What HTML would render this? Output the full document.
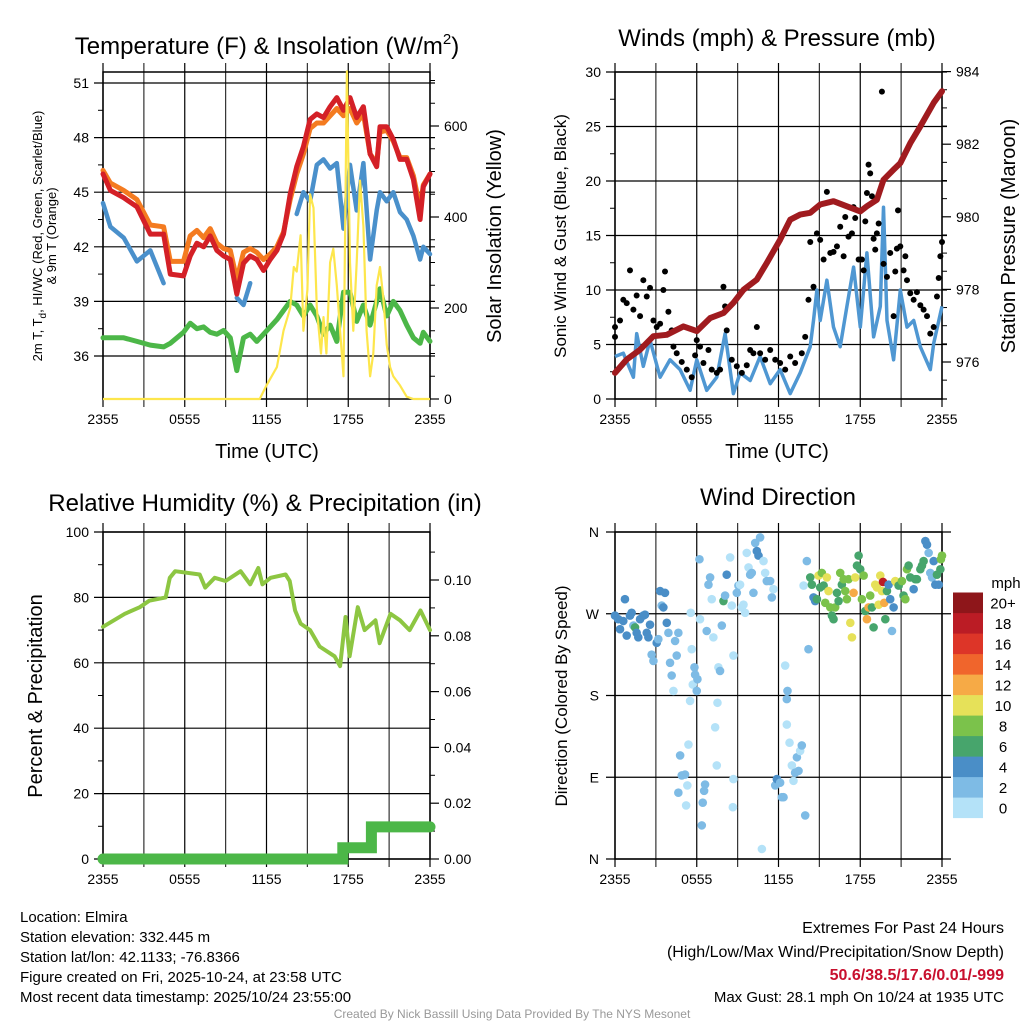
<!DOCTYPE html>
<html><head><meta charset="utf-8"><style>
html,body{margin:0;padding:0;background:#fff;}
svg{display:block;font-family:"Liberation Sans",sans-serif;}
</style></head><body>
<svg id="chart" width="1024" height="1024" viewBox="0 0 1024 1024" xmlns="http://www.w3.org/2000/svg"></svg>
<script>
// ---------- Temperature panel data ----------
const tempHours=[0,0.54,1.52,2.49,3.47,4.45,4.94,5.91,6.40,6.89,7.38,7.87,8.36,8.85,9.34,9.82,10.31,10.80,11.29,11.78,12.27,12.76,13.25,13.74,14.22,14.71,15.20,15.69,16.18,16.67,17.16,17.65,18.13,18.62,19.11,19.60,20.09,20.33,20.82,21.31,21.80,22.29,22.78,23.27,23.51,24];
const tempRed=[46.0,45.1,44.7,44.2,42.7,42.7,40.5,40.4,41.5,42.2,42.0,42.6,41.8,41.5,41.3,39.4,41.1,41.5,41.3,40.7,41.3,41.8,42.7,44.9,46.4,47.5,49.0,49.3,49.1,49.7,50.2,49.5,50.2,49.1,49.7,47.1,46.4,48.6,48.6,47.9,46.8,46.8,45.7,43.5,45.3,46.0];
const temp9m=[46.2,45.5,45.1,44.6,43.2,43.1,41.2,41.2,42.6,42.9,42.5,43.0,42.2,41.9,41.8,40.2,41.7,41.9,41.7,41.3,41.6,42.0,42.8,44.6,46.0,47.1,48.5,48.8,48.8,49.2,49.6,49.2,49.6,48.8,49.3,47.1,46.6,48.3,48.4,47.8,46.9,46.9,45.9,44.1,45.4,46.0];
const windChill=[44.4,43.1,42.5,41.2,41.8,40.0,null,null,null,null,null,40.0,null,null,null,39.2,38.8,40.0,null,null,null,null,null,null,43.8,45.0,44.5,46.5,46.8,46.3,46.6,43.0,46.5,44.0,46.6,41.3,44.0,45.0,44.5,45.0,43.9,43.5,42.6,41.3,42.0,41.6];
const dewPoint=[37.0,37.0,37.0,36.8,36.6,36.5,36.7,37.3,37.8,37.5,37.6,37.3,37.2,37.4,37.0,35.2,37.0,37.2,36.8,37.2,37.6,38.0,38.5,39.0,38.8,38.2,38.8,38.2,37.2,37.7,36.8,39.5,39.5,37.9,38.8,37.7,39.0,39.7,38.2,39.0,38.5,37.7,37.0,36.7,37.3,36.8];
const solarHours=[0,11.5,12.0,12.76,13.25,13.74,14.0,14.22,14.5,14.71,15.0,15.2,15.45,15.69,16.0,16.18,16.4,16.67,16.9,17.16,17.4,17.65,17.9,18.13,18.37,18.62,18.86,19.11,19.35,19.6,19.84,20.09,20.33,20.58,20.82,21.07,21.31,21.8,22.29,22.78,24];
const solarVals=[0,0,30,70,150,200,290,280,360,150,240,450,420,200,100,180,100,300,330,250,150,50,720,300,150,300,480,380,150,50,100,250,290,220,120,70,50,30,5,0,0];
const tempTicks=[36,39,42,45,48,51];
const solarTicks=[0,200,400,600];
const timeTickLabels=["2355","0555","1155","1755","2355"];

// ---------- Wind panel data ----------
const pressHours=[0,0.86,1.84,2.82,3.80,5.02,6.00,6.98,7.96,8.69,9.43,10.41,11.14,12.12,12.86,13.59,14.33,15.06,16.04,17.02,18.00,18.49,19.22,19.71,20.45,20.94,21.67,22.41,23.39,24];
const pressVals=[975.70,976.07,976.34,976.71,976.75,976.98,976.85,977.21,977.35,977.63,977.99,978.27,978.73,979.37,979.92,980.06,980.11,980.34,980.43,980.29,980.15,980.29,980.47,981.02,981.30,981.48,982.03,982.49,983.14,983.46];
const windHours=[0,0.61,1.35,1.59,2.08,2.57,3.31,4.04,4.78,5.51,6.00,6.73,7.47,8.08,8.69,9.18,9.92,10.65,11.39,12.12,12.86,13.59,14.33,14.57,14.82,15.06,15.55,16.04,16.53,17.02,17.51,18.00,18.49,18.98,19.47,19.71,19.96,20.45,20.94,21.43,21.92,22.41,23.14,23.39,24];
const windVals=[3.9,4.2,2.0,6.0,3.0,5.4,2.0,3.6,2.7,0.8,3.6,0.8,2.0,6.0,0.5,2.4,1.7,3.9,1.4,2.7,0.5,2.4,4.8,7.2,10.0,7.2,10.9,6.6,4.8,8.5,12.1,6.6,13.4,5.7,8.5,17.6,7.2,3.6,10.0,6.6,7.2,4.8,2.7,5.1,8.5];
const gustHours=[0,0,0.37,0.61,0.86,1.10,1.35,1.59,1.84,2.08,2.33,2.57,2.82,3.06,3.31,3.55,3.67,3.92,4.16,4.29,4.53,4.90,5.27,5.63,5.88,6.00,6.24,6.49,6.86,7.10,7.47,7.71,7.96,8.08,8.20,8.57,8.94,9.31,9.67,9.92,10.16,10.41,10.65,11.02,11.39,11.76,12.12,12.49,12.86,13.22,13.71,13.96,14.20,14.33,14.57,14.82,15.06,15.31,15.55,15.80,16.04,16.29,16.53,16.78,16.90,17.14,17.39,17.51,17.63,17.88,18.12,18.25,18.37,18.49,18.61,18.73,18.86,18.98,19.10,19.22,19.35,19.59,19.71,19.96,20.20,20.45,20.57,20.69,20.77,20.94,21.18,21.31,21.43,21.67,21.92,22.16,22.41,22.65,22.90,23.14,23.39,23.63,23.76,23.88,24.0];
const gustVals=[5.7,6.6,7.2,9.1,8.8,11.8,8.2,9.5,7.6,10.9,9.4,10.2,7.2,6.6,6.9,10.0,11.7,8.0,6.3,4.8,4.2,3.4,2.7,2.0,4.0,5.4,4.8,3.3,4.5,2.7,2.4,2.7,10.3,8.5,6.3,3.6,3.0,2.4,3.1,4.5,4.2,6.6,4.2,3.6,4.5,3.6,3.3,2.7,3.9,3.3,4.2,5.7,9.1,14.4,10.3,15.2,14.6,12.8,19.0,13.4,13.5,14.0,15.8,13.1,16.7,14.9,15.2,17.6,16.6,12.8,12.8,11.8,16.3,18.9,21.5,20.7,18.6,14.7,13.7,15.2,16.1,28.2,12.4,11.2,13.4,7.6,11.7,13.8,17.3,14.0,11.8,13.1,10.9,9.7,9.1,9.8,8.6,8.2,7.6,6.0,6.6,9.4,11.1,13.1,14.4];
const windTicks=[0,5,10,15,20,25,30];
const pressTicks=[976,978,980,982,984];

// ---------- Humidity panel data ----------
const rhHours=[0,1.6,2.7,3.4,4.6,4.9,5.3,7.1,7.5,8.2,9.0,10.1,10.8,11.4,11.7,12.3,13.4,13.7,14.1,14.5,15.2,15.9,17.0,17.4,17.8,18.1,18.7,19.2,20.0,20.3,21.1,21.8,22.5,23.3,24];
const rhVals=[71,75,77,79,80,86,88,87,83,86,85,88,84,89,84,86,87,85,76,72,70,65,62,59,74,62,77,70,73,66,75,73,70,76,70];
const precipHours=[0,17.6,19.7,24];
const precipVals=[0,0.004,0.0115,0.0115];
const rhTicks=[0,20,40,60,80,100];
const precipTicks=[0,0.02,0.04,0.06,0.08,0.10];

// ---------- Wind direction panel data ----------
const dirHours=[0.0,0.24,0.37,0.61,0.73,0.86,1.10,1.22,1.35,1.47,1.59,1.71,1.84,2.08,2.20,2.33,2.45,2.57,2.69,2.82,3.06,3.18,3.31,3.43,3.55,3.67,3.80,3.92,4.04,4.16,4.29,4.41,4.53,4.65,4.65,4.78,4.90,5.14,5.22,5.31,5.39,5.51,5.56,5.63,5.71,5.83,5.88,6.00,6.05,6.20,6.24,6.37,6.44,6.54,6.61,6.73,6.86,6.98,7.10,7.22,7.35,7.47,7.52,7.59,7.71,7.84,7.96,8.08,8.20,8.45,8.57,8.65,8.69,8.69,8.94,9.06,9.18,9.31,9.43,9.55,9.67,9.80,9.92,10.04,10.16,10.29,10.41,10.53,10.65,10.78,10.90,11.02,11.14,11.39,11.51,11.63,11.76,11.88,12.12,12.25,12.37,12.49,12.61,12.66,12.61,12.81,12.98,13.10,13.22,13.35,13.47,13.59,13.71,13.96,13.84,14.08,14.20,14.33,14.45,14.57,14.69,14.82,14.94,15.06,15.18,15.31,15.43,15.55,15.67,15.80,15.92,16.04,16.16,16.29,16.41,16.53,16.65,16.78,16.90,17.02,17.14,17.27,17.39,17.51,17.63,17.76,17.88,18.00,18.12,18.25,18.37,18.49,18.61,18.73,18.86,18.98,19.10,19.22,19.35,19.47,19.59,19.67,19.76,19.84,19.96,20.08,20.20,20.33,20.45,20.57,20.69,20.82,21.06,21.18,21.31,21.43,21.55,21.67,21.92,22.04,22.16,22.41,22.53,22.65,22.78,22.90,23.02,23.14,23.27,23.39,23.51,23.63,23.76,23.88,23.92,24.0];
const dirDeg=[268,264,253,262,286,246,268,271,257,255,249,244,264,268,269,249,244,258,225,218,238,242,295,279,277,293,260,249,216,202,185,240,224,249,73,114,92,93,59,81,126,174,271,231,192,211,203,185,198,330,264,37,62,75,82,251,302,310,286,244,145,103,172,211,207,257,284,290,313,332,279,57,224,88,293,301,302,277,280,271,337,321,313,315,293,348,339,334,354,11,328,315,306,306,288,297,81,88,84,68,68,213,176,185,148,128,103,86,95,112,97,119,125,48,301,328,231,310,302,288,284,286,312,299,315,301,282,310,295,277,268,264,277,293,284,315,302,308,295,286,308,260,244,293,310,323,334,319,286,312,273,264,277,290,277,255,302,299,280,312,295,305,282,264,295,302,286,251,277,306,304,301,306,290,286,319,323,310,297,308,308,319,323,328,350,346,337,315,310,328,302,313,302,319,330,334];
const dirSpeed=[5,5,5,5,5,5,5,5,3,7,5,5,5,5,5,5,5,5,3,3,5,3,5,3,5,5,5,3,3,3,1,3,3,3,3,3,3,3,1,1,1,1,1,1,1,3,3,3,3,3,1,3,3,3,3,3,3,3,1,1,1,1,1,1,3,3,7,3,5,1,1,1,1,1,3,3,1,1,1,1,1,1,3,3,3,3,5,5,3,1,1,1,3,3,3,1,3,5,3,3,3,1,3,3,1,1,1,1,3,3,3,1,3,3,1,3,3,7,7,5,5,7,11,7,9,7,9,11,11,9,7,7,9,7,7,9,7,9,9,9,9,11,11,13,11,7,7,7,9,9,7,13,13,9,7,7,11,11,11,11,11,19,13,7,7,5,5,3,5,11,11,7,9,7,9,9,7,7,5,7,7,7,7,7,5,5,3,3,3,5,5,7,5,7,9,9];
const speedBinLabels=["0","2","4","6","8","10","12","14","16","18","20+"];
const speedColors=["#b4e2f8","#7ebbe5","#4a8ec7","#47a56c","#7bc24b","#e6e159","#f6aa46","#f0652c","#dd3528","#bb1c25","#8e161a"];
const dirTickLabels=["N","E","S","W","N"];
const dirTicks=[0,90,180,270,360];

// ---------- helpers ----------
const NS="http://www.w3.org/2000/svg";
const svg=document.getElementById('chart');
function mk(tag,attrs,parent){const e=document.createElementNS(NS,tag);for(const k in attrs)e.setAttribute(k,attrs[k]);(parent||svg).appendChild(e);return e;}
function txt(s,x,y,size,anchor,parent,extra){const e=mk('text',Object.assign({x:x,y:y,'font-size':size,'text-anchor':anchor||'middle',fill:'#000'},extra||{}),parent);e.textContent=s;return e;}
function timeX(p,h){return p.x0+h/24*(p.x1-p.x0);}
function linePath(xs,ys,fx,fy){let d='',pen=false;for(let i=0;i<xs.length;i++){if(ys[i]===null){pen=false;continue;}d+=(pen?'L':'M')+fx(xs[i]).toFixed(1)+' '+fy(ys[i]).toFixed(1);pen=true;}return d;}

function frame(p,name){
  const g=mk('g',{});
  
  
  for(let h=0;h<=24;h+=3){const x=timeX(p,h);mk('line',{x1:x,x2:x,y1:p.y0-9,y2:p.y1+8,stroke:(h%6===0)?'#000':'#333','stroke-width':1.2},g);}
  mk('rect',{x:p.x0,y:p.y0,width:p.x1-p.x0,height:p.y1-p.y0,fill:'none',stroke:'#000','stroke-width':1.5},g);
  const lg=mk('g',{});
  
  
  timeTickLabels.forEach((s,i)=>{txt(s,timeX(p,i*6),p.y1+25,14,'middle',lg);});
  return g;
}

// ---------- Panel 1: Temperature ----------
(function(){
  const p={x0:103,x1:430,y0:72,y1:399};
  const tY=v=>356-(v-36)*18.2, sY=w=>399-w*0.455, X=h=>timeX(p,h);
  frame(p,'temperature');
  const g=mk('g',{});
  
  
  tempTicks.forEach(v=>{const y=tY(v);mk('line',{x1:p.x0-9,x2:p.x1+5,y1:y,y2:y,stroke:'#000','stroke-width':1.2},g);txt(String(v),p.x0-14,y+5,14,'end',g);});
  for(let v=37.5;v<51.6;v+=3){const y=tY(v);mk('line',{x1:p.x0-5,x2:p.x0,y1:y,y2:y,stroke:'#000'},g);}
  solarTicks.forEach(v=>{const y=sY(v);mk('line',{x1:p.x1,x2:p.x1+9,y1:y,y2:y,stroke:'#000','stroke-width':1.2},g);txt(String(v),p.x1+14,y+5,14,'start',g);});
  for(let v=50;v<720;v+=50){if(v%200===0)continue;const y=sY(v);mk('line',{x1:p.x1,x2:p.x1+5,y1:y,y2:y,stroke:'#000'},g);}
  const series=[[dewPoint,'#4cb748',5,'dewpoint-line'],[windChill,'#4a90cb',4.5,'wind-chill-line'],[temp9m,'#f47b20',5,'temp-9m-line'],[tempRed,'#d42027',5,'temp-2m-line']];
  series.forEach(s=>{const e=mk('path',{d:linePath(tempHours,s[0],X,tY),fill:'none',stroke:s[1],'stroke-width':s[2],'stroke-linejoin':'round','stroke-linecap':'round'});
    
    });
  const sol=mk('path',{d:linePath(solarHours,solarVals,X,sY),fill:'none',stroke:'#fde64c','stroke-width':2.2,'stroke-linejoin':'round'});
  
  
  const t=txt('',267,54,24,'middle');t.innerHTML='Temperature (F) &amp; Insolation (W/m<tspan dy="-10" font-size="15">2</tspan><tspan dy="10">)</tspan>';
  
  
  const yl=mk('g',{transform:'translate(42,236) rotate(-90)'});
  
  
  const a=txt('',0,0,13,'middle',yl);a.innerHTML='2m T, T<tspan dy="4" font-size="10">d</tspan><tspan dy="-4">, HI/WC (Red, Green, Scarlet/Blue)</tspan>';
  txt('& 9m T (Orange)',0,14,13,'middle',yl);
  const yr=txt('Solar Insolation (Yellow)',0,0,20,'middle',null,{transform:'translate(501,236) rotate(-90)'});
  
  
  const xl=txt('Time (UTC)',267,458,20);
  
  
})();

// ---------- Panel 2: Winds & Pressure ----------
(function(){
  const p={x0:615,x1:942,y0:72,y1:399};
  const wY=v=>399-v*10.9, pY=v=>362-(v-976)*36.3, X=h=>timeX(p,h);
  frame(p,'wind');
  const g=mk('g',{});
  
  
  windTicks.forEach(v=>{const y=wY(v);mk('line',{x1:p.x0-9,x2:p.x1+5,y1:y,y2:y,stroke:'#000','stroke-width':1.2},g);txt(String(v),p.x0-14,y+5,14,'end',g);});
  for(let v=2.5;v<30;v+=5){const y=wY(v);mk('line',{x1:p.x0-5,x2:p.x0,y1:y,y2:y,stroke:'#000'},g);}
  pressTicks.forEach(v=>{const y=pY(v);mk('line',{x1:p.x1,x2:p.x1+9,y1:y,y2:y,stroke:'#000','stroke-width':1.2},g);txt(String(v),p.x1+14,y+5,14,'start',g);});
  for(let v=975.5;v<984;v+=0.5){if(Math.abs(v-Math.round(v/2)*2)<0.01)continue;const y=pY(v);mk('line',{x1:p.x1,x2:p.x1+5,y1:y,y2:y,stroke:'#000'},g);}
  const w=mk('path',{d:linePath(windHours,windVals,X,wY),fill:'none',stroke:'#4f97d2','stroke-width':3.5,'stroke-linejoin':'round'});
  
  
  const gg=mk('g',{});
  
  
  gustHours.forEach((h,i)=>{mk('circle',{cx:X(h),cy:wY(gustVals[i]),r:3,fill:'#000'},gg);});
  const pr=mk('path',{d:linePath(pressHours,pressVals,X,pY),fill:'none',stroke:'#a01b1f','stroke-width':6,'stroke-linejoin':'round','stroke-linecap':'round'});
  
  
  const t=txt('Winds (mph) & Pressure (mb)',777,46,24);
  
  
  const yl=txt('Sonic Wind & Gust (Blue, Black)',0,0,17,'middle',null,{transform:'translate(566,236) rotate(-90)'});
  
  
  const yr=txt('Station Pressure (Maroon)',0,0,20,'middle',null,{transform:'translate(1015,236) rotate(-90)'});
  
  
  const xl=txt('Time (UTC)',777,458,20);
  
  
})();

// ---------- Panel 3: Humidity & Precip ----------
(function(){
  const p={x0:103,x1:430,y0:532,y1:859};
  const rY=v=>859-v*3.27, pY=v=>859-v*2790, X=h=>timeX(p,h);
  frame(p,'humidity');
  const g=mk('g',{});
  
  
  rhTicks.forEach(v=>{const y=rY(v);mk('line',{x1:p.x0-9,x2:p.x1,y1:y,y2:y,stroke:'#000','stroke-width':1.2},g);txt(String(v),p.x0-14,y+5,14,'end',g);});
  for(let v=10;v<100;v+=20){const y=rY(v);mk('line',{x1:p.x0-5,x2:p.x0,y1:y,y2:y,stroke:'#000'},g);}
  precipTicks.forEach(v=>{const y=pY(v);mk('line',{x1:p.x1,x2:p.x1+9,y1:y,y2:y,stroke:'#000','stroke-width':1.2},g);txt(v.toFixed(2),p.x1+14,y+5,14,'start',g);});
  for(let v=0.01;v<0.115;v+=0.02){const y=pY(v);mk('line',{x1:p.x1,x2:p.x1+5,y1:y,y2:y,stroke:'#000'},g);}
  const rh=mk('path',{d:linePath(rhHours,rhVals,X,rY),fill:'none',stroke:'#8dc642','stroke-width':4,'stroke-linejoin':'round','stroke-linecap':'round'});
  
  
  let d='';precipHours.forEach((h,i)=>{if(i===0)d+='M'+X(h)+' '+pY(precipVals[i]);else d+='H'+X(h).toFixed(1)+'V'+pY(precipVals[i]).toFixed(1);});
  const pr=mk('path',{d:d,fill:'none',stroke:'#4cb748','stroke-width':11,'stroke-linecap':'round'});
  
  
  const t=txt('Relative Humidity (%) & Precipitation (in)',265,511,24);
  
  
  const yl=txt('Percent & Precipitation',0,0,20,'middle',null,{transform:'translate(42,696) rotate(-90)'});
  
  
})();

// ---------- Panel 4: Wind Direction ----------
(function(){
  const p={x0:615,x1:942,y0:532,y1:859};
  const dY=v=>859-v*(327/360), X=h=>timeX(p,h);
  frame(p,'wind-direction');
  const g=mk('g',{});
  
  
  dirTicks.forEach((v,i)=>{const y=dY(v);mk('line',{x1:p.x0-9,x2:p.x1+9,y1:y,y2:y,stroke:'#000','stroke-width':1.2},g);txt(dirTickLabels[i],p.x0-16,y+5,14,'end',g);});
  const pg=mk('g',{});
  
  
  dirHours.forEach((h,i)=>{const bin=Math.min(10,Math.floor(dirSpeed[i]/2));mk('circle',{cx:X(h),cy:dY(dirDeg[i]),r:4.3,fill:speedColors[bin]},pg);});
  const cb=mk('g',{});
  
  
  speedBinLabels.forEach((s,i)=>{const y=818-(i+1)*20.5;mk('rect',{x:953,y:y,width:30,height:20.6,fill:speedColors[i]},cb);txt(s,1003,y+16,15,'middle',cb);});
  txt('mph',1006,588,15,'middle',cb);
  const t=txt('Wind Direction',778,505,24);
  
  
  const yl=txt('Direction (Colored By Speed)',0,0,17,'middle',null,{transform:'translate(567,696) rotate(-90)'});
  
  
})();

// ---------- Footer ----------
(function(){
  const info=mk('g',{});
  
  
  ['Location: Elmira','Station elevation: 332.445 m','Station lat/lon: 42.1133; -76.8366','Figure created on Fri, 2025-10-24, at 23:58 UTC','Most recent data timestamp: 2025/10/24 23:55:00'].forEach((s,i)=>{txt(s,20,922+i*20,15,'start',info);});
  const ex=mk('g',{});
  
  
  txt('Extremes For Past 24 Hours',1004,933,16,'end',ex);
  txt('(High/Low/Max Wind/Precipitation/Snow Depth)',1004,957,16,'end',ex);
  txt('50.6/38.5/17.6/0.01/-999',1004,980,16,'end',ex,{fill:'#c8102e','font-weight':'bold'});
  txt('Max Gust: 28.1 mph On 10/24 at 1935 UTC',1004,1002,15,'end',ex);
  const cr=txt('Created By Nick Bassill Using Data Provided By The NYS Mesonet',512,1018,12,'middle',null,{fill:'#999'});
  
  
})();
</script>
</body></html>
